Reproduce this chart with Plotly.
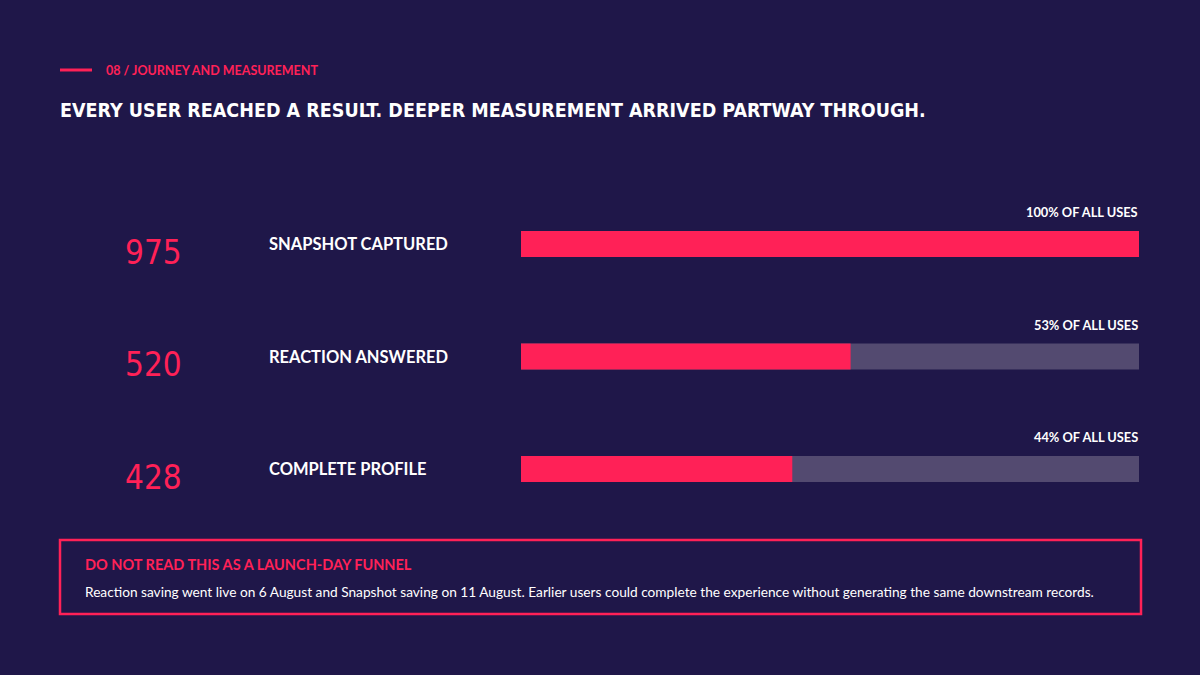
import plotly.graph_objects as go

# data
steps = ["SNAPSHOT CAPTURED", "REACTION ANSWERED", "COMPLETE PROFILE"]
counts = [975, 520, 428]
pct_labels = ["100% OF ALL USES", "53% OF ALL USES", "44% OF ALL USES"]
total = 975

BG = "#1f1749"
PINK = "#ff2157"
TRACK = "#534a70"
COND = "Liberation Sans Narrow, DejaVu Sans Condensed, sans-serif"
SANS = "Lato, Noto Sans, sans-serif"

ypos = list(range(len(steps)))

fig = go.Figure()
# background track
fig.add_trace(go.Bar(x=[total] * len(steps), y=ypos, orientation="h",
                     marker=dict(color=TRACK, line=dict(width=0)),
                     width=0.231, hoverinfo="skip", showlegend=False))
fig.add_trace(go.Bar(x=counts, y=ypos, orientation="h",
                     marker=dict(color=PINK, line=dict(width=0)),
                     width=0.231, showlegend=False))

annotations = []
for i, (s, c, p) in enumerate(zip(steps, counts, pct_labels)):
    annotations.append(dict(x=153 / 1200, xref="paper", y=i, yref="y", yshift=-8,
                            text=str(c), showarrow=False, xanchor="center",
                            font=dict(family=COND, size=33, color=PINK)))
    annotations.append(dict(x=267 / 1200, xref="paper", y=i, yref="y",
                            text="<b>" + s + "</b>", showarrow=False, xanchor="left",
                            font=dict(family=SANS, size=16.5, color="white")))
    annotations.append(dict(x=1140 / 1200, xref="paper", y=i, yref="y", yshift=32,
                            text="<b>" + p + "</b>", showarrow=False, xanchor="right",
                            font=dict(family=SANS, size=12.8, color="white")))

# header
annotations.append(dict(x=104 / 1200, y=1 - 71 / 675, xref="paper", yref="paper",
                        text="<b>08 / JOURNEY AND MEASUREMENT</b>", showarrow=False,
                        xanchor="left", yanchor="middle",
                        font=dict(family=SANS, size=12.5, color=PINK)))
annotations.append(dict(x=58 / 1200, y=1 - 110 / 675, xref="paper", yref="paper",
                        text="<b>EVERY USER REACHED A RESULT. DEEPER MEASUREMENT ARRIVED PARTWAY THROUGH.</b>",
                        showarrow=False, xanchor="left", yanchor="middle",
                        font=dict(family=COND, size=19.5, color="white")))
# note box
annotations.append(dict(x=83 / 1200, y=1 - 564 / 675, xref="paper", yref="paper",
                        text="<b>DO NOT READ THIS AS A LAUNCH-DAY FUNNEL</b>", showarrow=False,
                        xanchor="left", yanchor="middle",
                        font=dict(family=SANS, size=14.5, color=PINK)))
annotations.append(dict(x=83 / 1200, y=1 - 591 / 675, xref="paper", yref="paper",
                        text="Reaction saving went live on 6 August and Snapshot saving on 11 August. "
                             "Earlier users could complete the experience without generating the same downstream records.",
                        showarrow=False, xanchor="left", yanchor="middle",
                        font=dict(family=SANS, size=13.7, color="white")))

shapes = [
    dict(type="line", xref="paper", yref="paper", x0=60 / 1200, x1=92 / 1200,
         y0=1 - 70 / 675, y1=1 - 70 / 675, line=dict(color=PINK, width=3)),
    dict(type="rect", xref="paper", yref="paper", x0=60 / 1200, x1=1141 / 1200,
         y0=1 - 614 / 675, y1=1 - 540 / 675, line=dict(color=PINK, width=2.5)),
]

fig.update_layout(
    width=1200, height=675,
    paper_bgcolor=BG, plot_bgcolor=BG,
    margin=dict(l=0, r=0, t=0, b=0),
    barmode="overlay",
    xaxis=dict(domain=[521 / 1200, 1139 / 1200], range=[0, total], visible=False, fixedrange=True),
    yaxis=dict(domain=[1 - 525.25 / 675, 1 - 187.75 / 675], range=[2.5, -0.5],
               visible=False, fixedrange=True),
    annotations=annotations,
    shapes=shapes,
)

fig.write_html("out.html", config={"displayModeBar": False},
               post_script="document.body.style.margin='0';document.body.style.background='" + BG + "';")
